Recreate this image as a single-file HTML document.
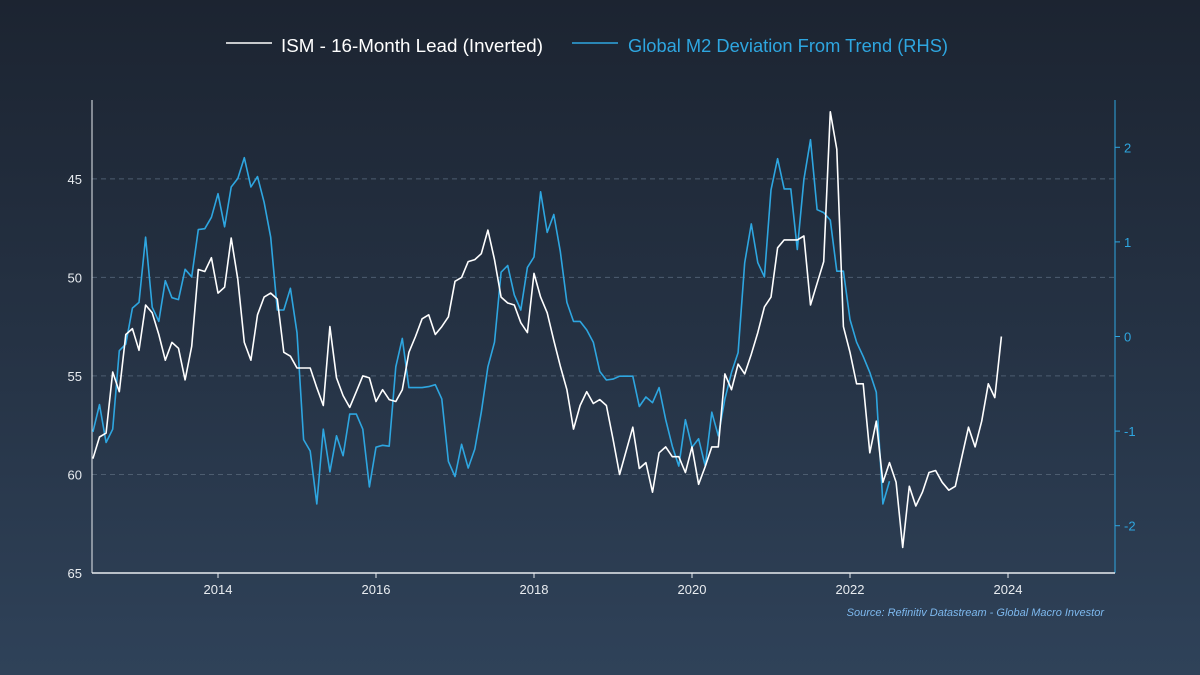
<!DOCTYPE html>
<html><head><meta charset="utf-8"><style>
html,body{margin:0;padding:0;width:1200px;height:675px;overflow:hidden}
body{background:linear-gradient(180deg,#1c2431 0%,#253244 50%,#2f4259 100%);font-family:"Liberation Sans",sans-serif}
svg{position:absolute;left:0;top:0}
</style></head><body>
<svg id="chart" width="1200" height="675" xmlns="http://www.w3.org/2000/svg">
<g>
<line x1="226" y1="43" x2="272" y2="43" stroke="#fff" stroke-width="1.5"/>
<text x="281" y="52" fill="#fff" font-size="18.5" textLength="262" lengthAdjust="spacingAndGlyphs">ISM - 16-Month Lead (Inverted)</text>
<line x1="572" y1="43" x2="618" y2="43" stroke="#2ea6e0" stroke-width="1.5"/>
<text x="628" y="52" fill="#2ea6e0" font-size="18.5" textLength="320" lengthAdjust="spacingAndGlyphs">Global M2 Deviation From Trend (RHS)</text>
</g>
<g id="grid"></g><g id="axes"></g><g id="series"></g>
<text x="1104" y="616" text-anchor="end" fill="#7db8ee" font-size="11" font-style="italic">Source: Refinitiv Datastream - Global Macro Investor</text>
</svg>
<script>
const startYear = 2012 + 5/12;
const ismValues = [59.2,58.1,57.9,54.8,55.8,52.9,52.6,53.7,51.4,51.8,52.9,54.2,53.3,53.6,55.2,53.5,49.6,49.7,49.0,50.8,50.5,48.0,50.1,53.3,54.2,51.9,51.0,50.8,51.1,53.8,54.0,54.6,54.6,54.6,55.6,56.5,52.5,55.1,56.0,56.6,55.8,55.0,55.1,56.3,55.7,56.2,
56.3,55.7,53.8,53.0,52.1,51.9,52.9,52.5,52.0,50.2,50.0,49.2,49.1,48.8,47.6,49.1,51.0,51.3,51.4,52.3,52.8,49.8,51.0,51.8,53.2,54.5,55.7,57.7,56.5,55.8,56.4,56.2,56.5,58.2,60.0,58.8,57.6,59.7,59.4,60.9,58.9,58.6,59.1,59.1,59.9,58.6,60.5,59.6,58.6,
58.6,54.9,55.7,54.4,54.9,53.9,52.8,51.5,51.0,48.5,48.1,48.1,48.1,47.9,51.4,50.3,49.2,41.6,43.5,52.5,53.8,55.4,55.4,58.9,57.3,60.4,59.4,60.4,63.7,60.6,61.6,60.9,59.9,59.8,60.4,60.8,60.6,59.1,57.6,58.6,57.3,55.4,56.1,53.0];
const m2Values = [-1.01,-0.72,-1.12,-0.98,-0.15,-0.08,0.30,0.36,1.05,0.31,0.16,0.59,0.41,0.39,0.71,0.63,1.13,1.14,1.26,1.51,1.16,1.58,1.67,1.89,1.58,1.69,1.42,1.05,0.28,0.28,0.51,0.04,-1.09,-1.21,-1.77,-0.98,-1.43,-1.05,-1.26,-0.82,-0.82,-0.98,-1.59,-1.17,-1.15,-1.16,
-0.32,-0.02,-0.54,-0.54,-0.54,-0.53,-0.51,-0.66,-1.32,-1.48,-1.14,-1.39,-1.19,-0.80,-0.32,-0.06,0.68,0.75,0.44,0.28,0.73,0.84,1.53,1.10,1.29,0.90,0.36,0.16,0.16,0.07,-0.06,-0.37,-0.46,-0.45,-0.42,-0.42,-0.42,-0.74,-0.64,-0.70,-0.54,-0.88,-1.16,-1.37,-0.88,-1.17,-1.08,-1.37,-0.80,
-1.05,-0.66,-0.38,-0.17,0.78,1.19,0.78,0.63,1.55,1.88,1.56,1.56,0.92,1.66,2.08,1.34,1.31,1.23,0.69,0.69,0.18,-0.06,-0.21,-0.38,-0.59,-1.77,-1.53];
const leftTicks = [45,50,55,60,65];
const rightTicks = [2,1,0,-1,-2];
const yearTicks = [2014,2016,2018,2020,2022,2024];

const L=92,R=1115,T=100,B=573;
const x = yr => 218 + (yr-2014)*79;
const yL = v => T + (v-41)/(65-41)*(B-T);
const yR = v => T + (2.5-v)/5*(B-T);
const NS="http://www.w3.org/2000/svg";
function mk(tag,attrs,parent){const e=document.createElementNS(NS,tag);for(const k in attrs)e.setAttribute(k,attrs[k]);parent.appendChild(e);return e;}
const grid=document.getElementById('grid'),axes=document.getElementById('axes'),series=document.getElementById('series');
leftTicks.forEach(t=>{
  const g=mk('line',{x1:L,x2:R,y1:yL(t),y2:yL(t),stroke:'#4d5d70','stroke-dasharray':'5,4','stroke-width':1},grid);
  
  
  const tx=mk('text',{x:82,y:yL(t)+5,'text-anchor':'end',fill:'#e8ecf0','font-size':13},axes);
  tx.textContent=t;
  
  
});
rightTicks.forEach(t=>{
  mk('line',{x1:R,x2:R+5,y1:yR(t),y2:yR(t),stroke:'#2ea6e0'},axes);
  const tx=mk('text',{x:1124,y:yR(t)+5,fill:'#2ea6e0','font-size':13},axes);
  tx.textContent=t;
  
  
});
yearTicks.forEach(t=>{
  mk('line',{x1:x(t),x2:x(t),y1:B,y2:B+5,stroke:'#e8ecf0'},axes);
  const tx=mk('text',{x:x(t),y:594,'text-anchor':'middle',fill:'#e8ecf0','font-size':13},axes);
  tx.textContent=t;
  
  
});
const la=mk('line',{x1:L,x2:L,y1:T,y2:B,stroke:'#e8ecf0','stroke-width':1},axes);


const ra=mk('line',{x1:R,x2:R,y1:T,y2:B,stroke:'#2ea6e0','stroke-width':1},axes);


const ba=mk('line',{x1:L,x2:R,y1:B,y2:B,stroke:'#e8ecf0','stroke-width':1.5},axes);


const m2Pts=m2Values.map((v,i)=>x(startYear+i/12).toFixed(1)+','+yR(v).toFixed(1)).join(' ');
const m2=mk('polyline',{points:m2Pts,fill:'none',stroke:'#2ea6e0','stroke-width':1.6,'stroke-linejoin':'round'},series);


const ismPts=ismValues.map((v,i)=>x(startYear+i/12).toFixed(1)+','+yL(v).toFixed(1)).join(' ');
const ism=mk('polyline',{points:ismPts,fill:'none',stroke:'#ffffff','stroke-width':1.6,'stroke-linejoin':'round'},series);


</script>
</body></html>
